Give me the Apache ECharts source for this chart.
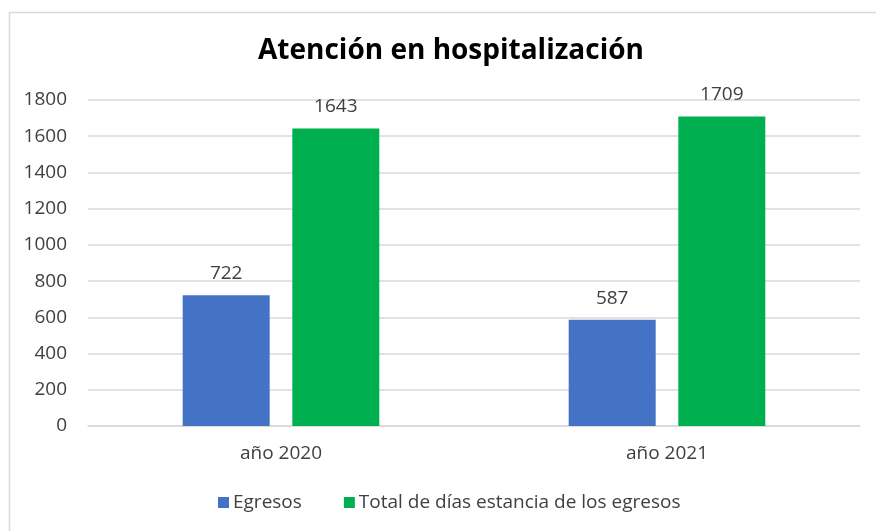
<!DOCTYPE html>
<html><head><meta charset="utf-8">
<script src="https://cdn.jsdelivr.net/npm/echarts@6/dist/echarts.min.js"></script>
<style>html,body{margin:0;padding:0;background:#fff}#c{width:876px;height:531px}</style>
</head><body><div id="c"></div>
<script>
const categories = ['año 2020', 'año 2021'];
const egresos = [722, 587];
const totalDias = [1643, 1709];
const seriesNames = ['Egresos', 'Total de días estancia de los egresos'];
const titleText = 'Atención en hospitalización';

const FONT = '"Open Sans", sans-serif';
const chart = echarts.init(document.getElementById('c'));
chart.setOption({
  animation: false,
  backgroundColor: '#fff',
  graphic: [{
    type: 'rect', left: 7, top: 10,
    shape: {width: 900, height: 560},
    style: {fill: 'none', stroke: '#d9d9d9', lineWidth: 1.5}, z: -1
  }],
  title: {
    text: titleText, left: 446, top: 32, textAlign: 'center',
    textStyle: {fontFamily: FONT, fontSize: 28, fontWeight: 'bold', color: '#000'}
  },
  legend: {
    bottom: 14, left: 213, itemWidth: 11, itemHeight: 11, itemGap: 42,
    icon: 'rect',
    textStyle: {fontFamily: FONT, fontSize: 19, color: '#404040', padding: [0, 0, 0, -1]},
    data: seriesNames
  },
  grid: {left: 88, right: 16, top: 100, bottom: 105, containLabel: false},
  xAxis: {
    type: 'category', data: categories,
    axisLine: {lineStyle: {color: '#d9d9d9', width: 1.5}},
    axisTick: {show: false},
    axisLabel: {fontFamily: FONT, fontSize: 19, color: '#404040', margin: 18}
  },
  yAxis: {
    type: 'value', min: 0, max: 1800, interval: 200,
    axisLine: {show: false}, axisTick: {show: false},
    splitLine: {lineStyle: {color: '#d9d9d9', width: 1.5}},
    axisLabel: {fontFamily: FONT, fontSize: 19, color: '#404040', margin: 21,
      formatter: v => String(v)}
  },
  series: [
    {name: seriesNames[0], type: 'bar', data: egresos, barWidth: 87, barGap: '26%',
     itemStyle: {color: '#4472c4'},
     label: {show: true, position: 'top', distance: 12, fontFamily: FONT, fontSize: 19, color: '#404040'}},
    {name: seriesNames[1], type: 'bar', data: totalDias, barWidth: 87,
     itemStyle: {color: '#00b050'},
     label: {show: true, position: 'top', distance: 12, fontFamily: FONT, fontSize: 19, color: '#404040'}}
  ]
});
</script></body></html>
